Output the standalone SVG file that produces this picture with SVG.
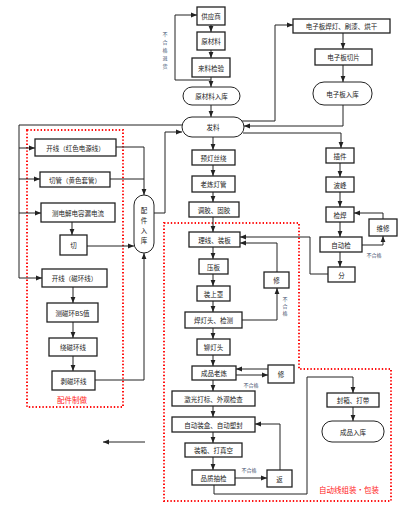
<svg xmlns="http://www.w3.org/2000/svg" width="414" height="507" viewBox="0 0 414 507">
<style>
.b{fill:#fff;stroke:#222;stroke-width:1.3}
.r{fill:#fff;stroke:#222;stroke-width:1}
.t{font-family:"Noto Sans CJK SC","Noto Sans",sans-serif;font-size:6.5px;text-anchor:middle;dominant-baseline:central;fill:#222}
.s{font-family:"Noto Sans CJK SC","Noto Sans",sans-serif;font-size:5px;text-anchor:middle;dominant-baseline:central;fill:#3a4a6a}
.red{font-family:"Noto Sans CJK SC","Noto Sans",sans-serif;font-size:7.5px;text-anchor:middle;dominant-baseline:central;fill:#ff2020}
.c{fill:none;stroke:#222;stroke-width:1;marker-end:url(#a)}
.l{fill:none;stroke:#222;stroke-width:1}
.d{fill:none;stroke:#ff1010;stroke-width:2;stroke-dasharray:1.4 2}
</style>
<defs>
<marker id="a" viewBox="0 0 10 10" refX="10" refY="5" markerWidth="6" markerHeight="6" orient="auto" markerUnits="userSpaceOnUse">
<path d="M0,1 L10,5 L0,9 z" fill="#222"/>
</marker>
</defs>
<rect width="414" height="507" fill="#fff"/>

<g id="regions">
<rect class="d" x="27" y="130" width="96" height="277"/>
<text class="red" x="72" y="399">配件制做</text>
<path class="d" d="M164,223 H299 V369 H391 V501 H164 Z"/>
<text class="red" x="349" y="489">自动线组装・包装</text>
</g>

<g id="connectors">
<!-- top chain -->
<path class="c" d="M211,25 V32"/>
<path class="c" d="M211,50 V58"/>
<path class="c" d="M211,77 V87"/>
<path class="c" d="M211,80 H175 V15 H197"/>
<path class="c" d="M211,105 V117"/>
<!-- electronic board -->
<path class="c" d="M241,121 H275 V25 H293"/>
<path class="c" d="M343,33 V49"/>
<path class="c" d="M343,65 V82"/>
<path class="c" d="M343,105 V126 H244"/>
<path class="c" d="M243,133 H341 V148"/>
<!-- right column -->
<path class="c" d="M340,163 V177"/>
<path class="c" d="M340,192 V207"/>
<path class="c" d="M340,222 V237"/>
<path class="c" d="M340,252 V267"/>
<path class="c" d="M362,245 H383 V236"/>
<path class="c" d="M383,219 V213 H354"/>
<path class="c" d="M329,274 H310 V237 H240"/>
<!-- left side -->
<path class="l" d="M182,125 H19 V278"/>
<path class="c" d="M19,278 H42"/>
<path class="c" d="M19,148 H35"/>
<path class="c" d="M19,179 H40"/>
<path class="c" d="M19,213 H41"/>
<path class="c" d="M72,222 V235"/>
<path class="c" d="M87,246 H134"/>
<path class="c" d="M116,147 H144 V195"/>
<path class="l" d="M110,179 H144"/>
<path class="c" d="M154,213 H165 V132 H182"/>
<path class="c" d="M73,287 V303"/>
<path class="c" d="M73,322 V338"/>
<path class="c" d="M73,356 V371"/>
<path class="c" d="M95,380 H144 V253"/>
<path class="c" d="M145,442 H103"/>
<!-- center chain -->
<path class="c" d="M213,137 V150"/>
<path class="c" d="M213,165 V176"/>
<path class="c" d="M213,192 V202"/>
<path class="c" d="M213,217 V232"/>
<path class="c" d="M213,247 V259"/>
<path class="c" d="M213,274 V286"/>
<path class="c" d="M213,301 V312"/>
<path class="c" d="M213,328 V339"/>
<path class="c" d="M213,355 V366"/>
<path class="c" d="M213,380 V391"/>
<path class="c" d="M213,406 V417"/>
<path class="c" d="M213,432 V443"/>
<path class="c" d="M213,457 V470"/>
<path class="c" d="M242,320 H277 V288"/>
<path class="c" d="M277,272 V243 H240"/>
<path class="c" d="M236,375 H268"/>
<path class="c" d="M268,369 H236"/>
<path class="c" d="M235,478 H267"/>
<path class="c" d="M280,470 V424 H255"/>
<path class="c" d="M214,485 V494 H307 V377 H353 V393"/>
<path class="c" d="M353,407 V421"/>
</g>

<g id="labels">
<text class="s" style="fill:#3a5070"><tspan x="165" y="33">不</tspan><tspan x="165" y="41">合</tspan><tspan x="165" y="49">格</tspan><tspan x="165" y="57">退</tspan><tspan x="165" y="65">货</tspan></text>
<text class="s" x="374" y="254">不合格</text>
<text class="s"><tspan x="285" y="298">不</tspan><tspan x="285" y="305">合</tspan><tspan x="285" y="312">格</tspan></text>
<text class="s" x="251" y="384">不合格</text>
<text class="s" x="249" y="469">不合格</text>
</g>

<g id="n-gys"><rect class="b" x="197" y="7" width="28" height="18"/><text class="t" x="211" y="16">供应商</text></g>
<g id="n-ycl"><rect class="b" x="197" y="32" width="28" height="18"/><text class="t" x="211" y="41">原材料</text></g>
<g id="n-lljy"><rect class="b" x="192" y="58" width="38" height="19"/><text class="t" x="211" y="67.5">来料检验</text></g>
<g id="n-yclrk"><rect class="r" x="183" y="87" width="57" height="18" rx="9"/><text class="t" x="211.5" y="96">原材料入库</text></g>
<g id="n-fl"><rect class="r" x="182" y="117" width="62" height="20" rx="10"/><text class="t" x="213" y="127">发料</text></g>

<g id="n-dzbhd"><rect class="b" x="293" y="19" width="97" height="14"/><text class="t" x="341.5" y="26">电子板焊灯、刷漆、烘干</text></g>
<g id="n-dzbqp"><rect class="b" x="315" y="49" width="57" height="16"/><text class="t" x="343.5" y="57">电子板切片</text></g>
<g id="n-dzbrk"><rect class="r" x="313" y="82" width="59" height="23" rx="11"/><text class="t" x="342.5" y="93.5">电子板入库</text></g>

<g id="n-cj"><rect class="b" x="326" y="148" width="28" height="15"/><text class="t" x="340" y="155.5">插件</text></g>
<g id="n-bf"><rect class="b" x="326" y="177" width="28" height="15"/><text class="t" x="340" y="184.5">波峰</text></g>
<g id="n-jh"><rect class="b" x="326" y="207" width="28" height="15"/><text class="t" x="340" y="214.5">检焊</text></g>
<g id="n-zdj"><rect class="b" x="320" y="237" width="42" height="15"/><text class="t" x="341" y="244.5">自动检</text></g>
<g id="n-f"><rect class="b" x="328" y="267" width="27" height="15"/><text class="t" x="341.5" y="274.5">分</text></g>
<g id="n-wx"><rect class="b" x="369" y="219" width="28" height="17"/><text class="t" x="383" y="227.5">维修</text></g>

<g id="n-kx1"><rect class="b" x="35" y="139" width="81" height="17"/><text class="t" x="75.5" y="147.5">开线（红色电源线）</text></g>
<g id="n-qg"><rect class="b" x="40" y="172" width="70" height="15"/><text class="t" x="75" y="179.5">切管（黄色套管）</text></g>
<g id="n-cdj"><rect class="b" x="41" y="203" width="74" height="19"/><text class="t" x="78" y="212.5">测电解电容漏电流</text></g>
<g id="n-q"><rect class="b" x="60" y="235" width="27" height="20"/><text class="t" x="73.5" y="245">切</text></g>
<g id="n-pjrk"><rect class="r" x="134" y="195" width="20" height="58" rx="10"/><text class="t"><tspan x="144" y="210">配</tspan><tspan x="144" y="220">件</tspan><tspan x="144" y="230">入</tspan><tspan x="144" y="240">库</tspan></text></g>
<g id="n-kx2"><rect class="b" x="42" y="269" width="65" height="18"/><text class="t" x="74.5" y="278">开线（磁环线）</text></g>
<g id="n-ccz"><rect class="b" x="47" y="303" width="51" height="19"/><text class="t" x="72.5" y="312.5">测磁环BS值</text></g>
<g id="n-rcx"><rect class="b" x="49" y="338" width="48" height="18"/><text class="t" x="73" y="347">绕磁环线</text></g>
<g id="n-bcx"><rect class="b" x="52" y="371" width="43" height="19"/><text class="t" x="73.5" y="380.5">剥磁环线</text></g>

<g id="n-ydsr"><rect class="b" x="192" y="150" width="43" height="15"/><text class="t" x="213.5" y="157.5">预灯丝绕</text></g>
<g id="n-lldg"><rect class="b" x="192" y="176" width="43" height="16"/><text class="t" x="213.5" y="184">老炼灯管</text></g>
<g id="n-tj"><rect class="b" x="189" y="202" width="50" height="15"/><text class="t" x="214" y="209.5">调胶、固胶</text></g>
<g id="n-lx"><rect class="b" x="189" y="232" width="51" height="15"/><text class="t" x="214.5" y="239.5">理线、装板</text></g>
<g id="n-yb"><rect class="b" x="199" y="259" width="29" height="15"/><text class="t" x="213.5" y="266.5">压板</text></g>
<g id="n-zsz"><rect class="b" x="197" y="286" width="33" height="15"/><text class="t" x="213.5" y="293.5">装上罩</text></g>
<g id="n-hdt"><rect class="b" x="185" y="312" width="57" height="16"/><text class="t" x="213.5" y="320">焊灯头、检测</text></g>
<g id="n-mdt"><rect class="b" x="197" y="339" width="33" height="16"/><text class="t" x="213.5" y="347">铆灯头</text></g>
<g id="n-cpll"><rect class="b" x="192" y="366" width="44" height="14"/><text class="t" x="214" y="373">成品老炼</text></g>
<g id="n-jg"><rect class="b" x="172" y="391" width="83" height="15"/><text class="t" x="213.5" y="398.5">激光打标、外观检查</text></g>
<g id="n-zdzh"><rect class="b" x="172" y="417" width="83" height="15"/><text class="t" x="213.5" y="424.5">自动装盒、自动塑封</text></g>
<g id="n-zx"><rect class="b" x="185" y="443" width="57" height="14"/><text class="t" x="213.5" y="450">装箱、打真空</text></g>
<g id="n-pzcj"><rect class="b" x="192" y="470" width="43" height="15"/><text class="t" x="213.5" y="477.5">品质抽检</text></g>
<g id="n-x1"><rect class="b" x="264" y="272" width="25" height="16"/><text class="t" x="276.5" y="280">修</text></g>
<g id="n-x2"><rect class="b" x="268" y="365" width="26" height="18"/><text class="t" x="281" y="374">修</text></g>
<g id="n-f2"><rect class="b" x="267" y="470" width="25" height="17"/><text class="t" x="279.5" y="478.5">返</text></g>
<g id="n-fx"><rect class="b" x="327" y="393" width="52" height="14"/><text class="t" x="353" y="400">封箱、打带</text></g>
<g id="n-cprk"><rect class="r" x="322" y="421" width="62" height="21" rx="10"/><text class="t" x="353" y="431.5">成品入库</text></g>
</svg>
